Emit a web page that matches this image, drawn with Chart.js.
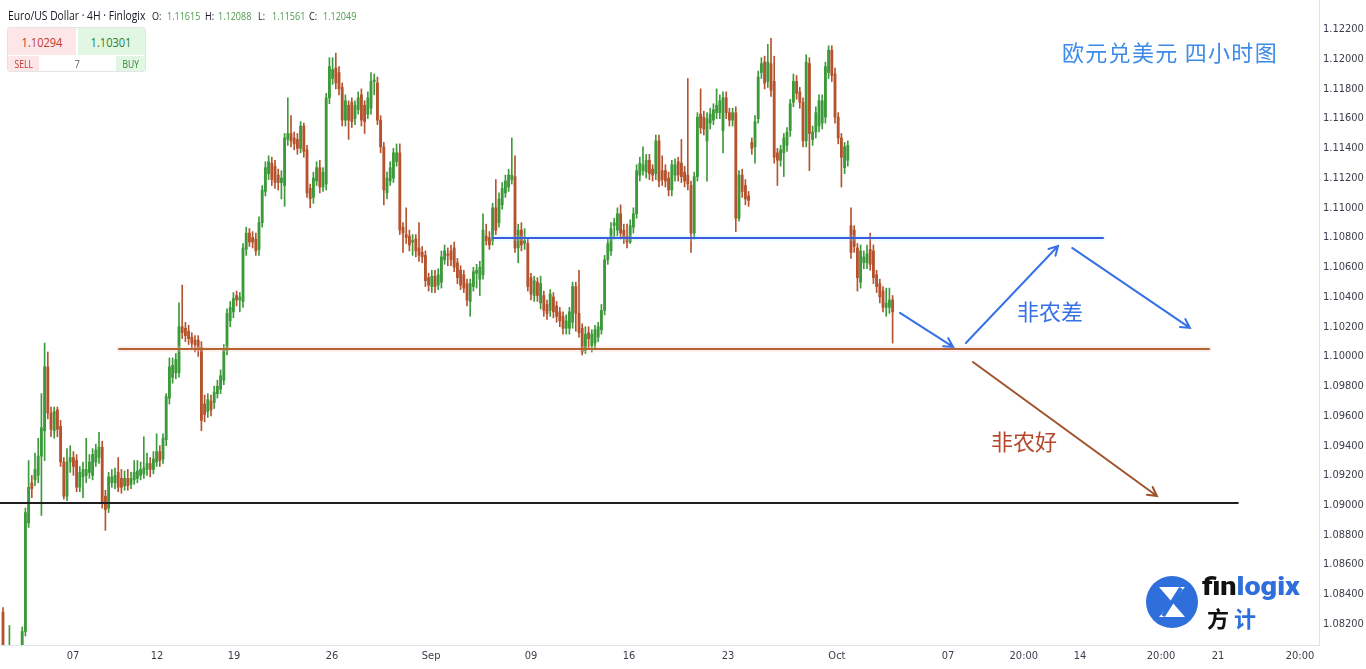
<!DOCTYPE html>
<html lang="zh">
<head>
<meta charset="utf-8">
<title>EUR/USD 4H</title>
<script src="https://cdn.jsdelivr.net/npm/chart.js@4.4.1/dist/chart.umd.min.js"></script>
<style>
  html, body { margin: 0; padding: 0; background: #fff; }
  #wrap { position: relative; width: 1366px; height: 669px; overflow: hidden; font-family: "Open Sans", "Noto Sans", sans-serif; }
  #chart { position: absolute; left: 0; top: 0; }
  .sq { position: absolute; top: 9px; white-space: nowrap; font-size: 11px; line-height: 14px; transform: scaleX(0.82); transform-origin: left center; color: #131722; }
  .sym { font-size: 12px; transform: scaleX(0.86); }
  .val { color: #4e9a4e; }
  .box { position: absolute; left: 7px; top: 27px; width: 137px; height: 43px; border: 1px solid #e4e4e4; border-radius: 3px; background: #fff; }
  .cell { position: absolute; display: flex; align-items: center; justify-content: center; white-space: nowrap; }
  .cell span { display: inline-block; transform: scaleX(0.85); }
  #title { position: absolute; left: 1062px; top: 35px; font: 22px "Noto Sans CJK SC", sans-serif; color: #3d8be8; white-space: nowrap; letter-spacing: 1.3px; }
  #logo { position: absolute; left: 1146px; top: 576px; }
  #brand { position: absolute; left: 1202px; top: 572px; font: 900 25px Roboto, sans-serif; white-space: nowrap; transform: scaleX(1.15); transform-origin: left center; }
  #brand2 { position: absolute; left: 1207px; top: 601px; font: 700 22px "Noto Sans CJK SC", sans-serif; white-space: nowrap; letter-spacing: 5px; }
</style>
</head>
<body>
<div id="wrap">
  <canvas id="chart" width="1366" height="669"></canvas>

  <div class="sq sym" style="left:8px;">Euro/US Dollar · 4H · Finlogix</div>
  <div class="sq" style="left:152px;">O:</div>
  <div class="sq val" style="left:167px;">1.11615</div>
  <div class="sq" style="left:205px;">H:</div>
  <div class="sq val" style="left:218px;">1.12088</div>
  <div class="sq" style="left:258px;">L:</div>
  <div class="sq val" style="left:272px;">1.11561</div>
  <div class="sq" style="left:309px;">C:</div>
  <div class="sq val" style="left:323px;">1.12049</div>

  <div class="box"></div>
  <div class="cell" style="left:8px;top:28px;width:68px;height:27px;background:#fde6e7;color:#c0392b;font-size:13px;"><span>1.10294</span></div>
  <div class="cell" style="left:78px;top:28px;width:67px;height:27px;background:#e2f6e4;color:#2e7d32;font-size:13px;"><span>1.10301</span></div>
  <div class="cell" style="left:8px;top:56px;width:31px;height:15px;background:#fde6e7;color:#c0392b;font-size:10px;"><span>SELL</span></div>
  <div class="cell" style="left:40px;top:56px;width:75px;height:15px;color:#666;font-size:11px;"><span>7</span></div>
  <div class="cell" style="left:116px;top:56px;width:29px;height:15px;background:#e2f6e4;color:#2e7d32;font-size:10px;"><span>BUY</span></div>

  <div id="title">欧元兑美元 四小时图</div>

  <svg id="logo" width="52" height="52" viewBox="0 0 52 52">
    <circle cx="26" cy="26" r="26" fill="#2f6fdb"/>
    <path d="M13 11 H39 L26 26 Z" fill="#fff"/>
    <path d="M13 41 H39 L26 26 Z" fill="#fff"/>
    <path d="M35 12 L17 40" stroke="#2f6fdb" stroke-width="4"/>
  </svg>
  <div id="brand"><span style="color:#111">fin</span><span style="color:#2f6fdb">logix</span></div>
  <div id="brand2"><span style="color:#111">方</span><span style="color:#2f6fdb">计</span></div>
</div>

<script>
// 4H candles, EUR/USD (oldest first)
const opens = [
  1.0828,1.0803,1.0800,1.0802,1.0795,1.0798,1.0801,1.0815,1.0888,1.0915,
  1.0917,1.0920,1.0933,1.0950,1.0993,1.0962,1.0950,1.0964,1.0953,1.0929,
  1.0906,1.0929,1.0932,1.0930,1.0912,1.0919,1.0920,1.0922,1.0920,1.0929,
  1.0932,1.0939,1.0906,1.0898,1.0915,1.0915,1.0922,1.0918,1.0913,1.0918,
  1.0914,1.0917,1.0918,1.0920,1.0921,1.0924,1.0928,1.0924,1.0929,1.0936,
  1.0931,1.0944,1.0972,1.0986,1.0989,1.0989,1.1020,1.1019,1.1017,1.1013,
  1.1011,1.1011,1.1006,1.0968,1.0963,1.0970,1.0969,1.0975,1.0978,1.0984,
  1.1004,1.1024,1.1030,1.1041,1.1038,1.1037,1.1072,1.1083,1.1080,1.1079,
  1.1072,1.1090,1.1111,1.1123,1.1130,1.1128,1.1122,1.1117,1.1115,1.1146,
  1.1150,1.1147,1.1146,1.1140,1.1155,1.1139,1.1113,1.1107,1.1118,1.1127,
  1.1114,1.1116,1.1174,1.1187,1.1194,1.1191,1.1181,1.1159,1.1169,1.1171,
  1.1160,1.1166,1.1176,1.1169,1.1163,1.1167,1.1185,1.1184,1.1159,1.1141,
  1.1110,1.1118,1.1120,1.1131,1.1137,1.1087,1.1082,1.1081,1.1077,1.1079,
  1.1073,1.1070,1.1068,1.1053,1.1047,1.1054,1.1048,1.1050,1.1065,1.1069,
  1.1071,1.1073,1.1063,1.1058,1.1055,1.1049,1.1037,1.1047,1.1056,1.1052,
  1.1055,1.1081,1.1080,1.1078,1.1100,1.1090,1.1102,1.1110,1.1114,1.1119,
  1.1121,1.1073,1.1085,1.1076,1.1076,1.1053,1.1041,1.1050,1.1036,1.1041,
  1.1035,1.1031,1.1040,1.1034,1.1030,1.1027,1.1019,1.1019,1.1023,1.1047,
  1.1029,1.1019,1.1004,1.1016,1.1007,1.1009,1.1013,1.1018,1.1031,1.1065,
  1.1071,1.1088,1.1085,1.1096,1.1085,1.1081,1.1077,1.1087,1.1096,1.1122,
  1.1125,1.1124,1.1132,1.1126,1.1123,1.1145,1.1125,1.1125,1.1120,1.1112,
  1.1122,1.1131,1.1130,1.1124,1.1122,1.1115,1.1083,1.1121,1.1163,1.1161,
  1.1145,1.1157,1.1159,1.1164,1.1164,1.1152,1.1174,1.1164,1.1159,1.1164,
  1.1093,1.1122,1.1115,1.1108,1.1144,1.1141,1.1160,1.1191,1.1198,1.1185,
  1.1197,1.1185,1.1137,1.1132,1.1137,1.1142,1.1152,1.1171,1.1185,1.1178,
  1.1171,1.1145,1.1197,1.1146,1.1151,1.1155,1.1157,1.1161,1.1191,1.1206,
  1.1190,1.1161,1.1147,1.1127,1.1132,1.1088,1.1085,1.1073,1.1050,1.1063,
  1.1063,1.1072,1.1071,1.1055,1.1049,1.1044,1.1033,1.1033,1.1038
];
const highs = [
  1.0831,1.0805,1.0819,1.0804,1.0801,1.0804,1.0818,1.0898,1.0930,1.0920,
  1.0935,1.0945,1.0975,1.1009,1.1003,1.0966,1.0966,1.0966,1.0957,1.0932,
  1.0938,1.0940,1.0936,1.0934,1.0926,1.0929,1.0945,1.0934,1.0938,1.0941,
  1.0949,1.0943,1.0910,1.0922,1.0924,1.0925,1.0932,1.0924,1.0923,1.0924,
  1.0922,1.0930,1.0930,1.0929,1.0946,1.0935,1.0932,1.0936,1.0948,1.0940,
  1.0948,1.0975,1.0999,1.0999,1.1002,1.1036,1.1048,1.1023,1.1021,1.1016,
  1.1014,1.1014,1.1010,1.0974,1.0975,1.0974,1.0980,1.0984,1.0991,1.1008,
  1.1032,1.1037,1.1043,1.1044,1.1043,1.1076,1.1087,1.1086,1.1084,1.1083,
  1.1094,1.1115,1.1131,1.1135,1.1134,1.1132,1.1126,1.1125,1.1150,1.1174,
  1.1162,1.1151,1.1150,1.1158,1.1157,1.1142,1.1116,1.1124,1.1131,1.1132,
  1.1127,1.1177,1.1201,1.1201,1.1204,1.1195,1.1184,1.1176,1.1172,1.1174,
  1.1172,1.1178,1.1180,1.1172,1.1178,1.1191,1.1190,1.1188,1.1162,1.1144,
  1.1124,1.1131,1.1140,1.1143,1.1143,1.1090,1.1100,1.1085,1.1082,1.1082,
  1.1090,1.1074,1.1071,1.1056,1.1058,1.1058,1.1059,1.1071,1.1075,1.1073,
  1.1075,1.1077,1.1066,1.1061,1.1058,1.1052,1.1052,1.1060,1.1062,1.1064,
  1.1096,1.1089,1.1084,1.1103,1.1119,1.1110,1.1117,1.1122,1.1126,1.1147,
  1.1135,1.1089,1.1090,1.1086,1.1079,1.1056,1.1054,1.1053,1.1054,1.1044,
  1.1038,1.1045,1.1043,1.1037,1.1033,1.1030,1.1028,1.1033,1.1050,1.1050,
  1.1058,1.1022,1.1020,1.1020,1.1018,1.1021,1.1023,1.1035,1.1068,1.1080,
  1.1090,1.1093,1.1100,1.1102,1.1089,1.1089,1.1092,1.1100,1.1129,1.1134,
  1.1141,1.1136,1.1136,1.1129,1.1149,1.1149,1.1135,1.1129,1.1124,1.1132,
  1.1133,1.1134,1.1146,1.1128,1.1187,1.1118,1.1124,1.1164,1.1180,1.1165,
  1.1164,1.1167,1.1170,1.1180,1.1176,1.1178,1.1178,1.1167,1.1167,1.1168,
  1.1125,1.1126,1.1119,1.1111,1.1147,1.1162,1.1192,1.1201,1.1202,1.1210,
  1.1214,1.1202,1.1140,1.1142,1.1150,1.1154,1.1173,1.1190,1.1189,1.1181,
  1.1174,1.1203,1.1201,1.1155,1.1168,1.1176,1.1176,1.1198,1.1209,1.1209,
  1.1194,1.1164,1.1150,1.1144,1.1145,1.1100,1.1088,1.1076,1.1075,1.1071,
  1.1075,1.1083,1.1075,1.1058,1.1052,1.1047,1.1046,1.1046,1.1041
];
const lows = [
  1.0803,1.0790,1.0795,1.0790,1.0788,1.0792,1.0799,1.0812,1.0885,1.0905,
  1.0913,1.0915,1.0893,1.0930,1.0958,1.0946,1.0945,1.0946,1.0926,1.0904,
  1.0903,1.0922,1.0920,1.0909,1.0909,1.0905,1.0915,1.0918,1.0917,1.0926,
  1.0928,1.0898,1.0883,1.0895,1.0912,1.0911,1.0909,1.0908,1.0910,1.0910,
  1.0911,1.0914,1.0915,1.0917,1.0918,1.0920,1.0919,1.0921,1.0926,1.0926,
  1.0928,1.0940,1.0968,1.0982,1.0985,1.0986,1.1012,1.1010,1.1008,1.1005,
  1.1003,1.1000,1.0950,1.0956,1.0959,1.0960,1.0965,1.0972,1.0975,1.0981,
  1.1001,1.1020,1.1026,1.1034,1.1030,1.1033,1.1068,1.1074,1.1073,1.1068,
  1.1068,1.1087,1.1108,1.1119,1.1115,1.1113,1.1112,1.1106,1.1101,1.1142,
  1.1141,1.1139,1.1136,1.1137,1.1134,1.1107,1.1100,1.1103,1.1115,1.1110,
  1.1111,1.1112,1.1170,1.1183,1.1180,1.1176,1.1155,1.1155,1.1146,1.1154,
  1.1156,1.1163,1.1155,1.1150,1.1160,1.1163,1.1176,1.1156,1.1137,1.1102,
  1.1106,1.1115,1.1117,1.1128,1.1082,1.1070,1.1076,1.1071,1.1068,1.1067,
  1.1064,1.1063,1.1047,1.1044,1.1043,1.1043,1.1045,1.1046,1.1062,1.1061,
  1.1061,1.1057,1.1049,1.1045,1.1043,1.1034,1.1027,1.1044,1.1046,1.1041,
  1.1052,1.1075,1.1072,1.1075,1.1082,1.1087,1.1099,1.1107,1.1111,1.1116,
  1.1070,1.1063,1.1071,1.1072,1.1044,1.1038,1.1037,1.1037,1.1032,1.1027,
  1.1025,1.1027,1.1026,1.1023,1.1020,1.1015,1.1015,1.1015,1.1019,1.1017,
  1.1013,1.1001,1.1002,1.1005,1.1003,1.1005,1.1010,1.1015,1.1028,1.1062,
  1.1068,1.1079,1.1081,1.1079,1.1076,1.1073,1.1076,1.1083,1.1093,1.1118,
  1.1122,1.1120,1.1119,1.1118,1.1119,1.1114,1.1115,1.1114,1.1108,1.1108,
  1.1118,1.1118,1.1117,1.1114,1.1112,1.1070,1.1079,1.1118,1.1150,1.1149,
  1.1118,1.1153,1.1156,1.1160,1.1160,1.1137,1.1160,1.1155,1.1155,1.1084,
  1.1091,1.1107,1.1102,1.1101,1.1136,1.1130,1.1157,1.1187,1.1180,1.1181,
  1.1175,1.1130,1.1115,1.1128,1.1121,1.1138,1.1148,1.1168,1.1173,1.1167,
  1.1141,1.1141,1.1125,1.1142,1.1147,1.1151,1.1153,1.1157,1.1187,1.1185,
  1.1157,1.1143,1.1114,1.1123,1.1128,1.1066,1.1070,1.1044,1.1046,1.1059,
  1.1059,1.1058,1.1049,1.1043,1.1036,1.1030,1.1027,1.1029,1.1009
];
const closes = [
  1.0806,1.0796,1.0805,1.0795,1.0798,1.0800,1.0815,1.0895,1.0912,1.0911,
  1.0924,1.0933,1.0952,1.0993,1.0962,1.0951,1.0963,1.0951,1.0929,1.0906,
  1.0929,1.0932,1.0926,1.0912,1.0922,1.0924,1.0924,1.0929,1.0934,1.0937,
  1.0939,1.0902,1.0897,1.0919,1.0919,1.0920,1.0912,1.0912,1.0918,1.0913,
  1.0918,1.0922,1.0923,1.0924,1.0925,1.0928,1.0924,1.0931,1.0936,1.0930,
  1.0945,1.0973,1.0993,1.0994,1.0998,1.1020,1.1016,1.1014,1.1012,1.1009,
  1.1008,1.1005,1.0957,1.0961,1.0971,1.0964,1.0976,1.0980,1.0987,1.1004,
  1.1029,1.1033,1.1039,1.1038,1.1040,1.1073,1.1083,1.1077,1.1077,1.1071,
  1.1090,1.1112,1.1127,1.1131,1.1119,1.1117,1.1117,1.1120,1.1147,1.1150,
  1.1145,1.1143,1.1140,1.1155,1.1138,1.1110,1.1106,1.1120,1.1127,1.1114,
  1.1124,1.1174,1.1195,1.1193,1.1184,1.1180,1.1159,1.1172,1.1159,1.1158,
  1.1169,1.1174,1.1159,1.1158,1.1174,1.1185,1.1186,1.1159,1.1141,1.1112,
  1.1120,1.1127,1.1137,1.1137,1.1085,1.1083,1.1080,1.1075,1.1078,1.1071,
  1.1068,1.1067,1.1051,1.1048,1.1054,1.1047,1.1055,1.1067,1.1071,1.1068,
  1.1065,1.1060,1.1053,1.1048,1.1046,1.1038,1.1049,1.1057,1.1058,1.1060,
  1.1085,1.1078,1.1075,1.1100,1.1085,1.1106,1.1113,1.1118,1.1122,1.1122,
  1.1073,1.1085,1.1075,1.1078,1.1047,1.1042,1.1051,1.1041,1.1049,1.1031,
  1.1029,1.1042,1.1030,1.1027,1.1024,1.1019,1.1024,1.1030,1.1047,1.1029,
  1.1016,1.1003,1.1015,1.1012,1.1015,1.1018,1.1020,1.1031,1.1065,1.1076,
  1.1086,1.1090,1.1096,1.1083,1.1080,1.1077,1.1088,1.1096,1.1125,1.1130,
  1.1129,1.1132,1.1123,1.1122,1.1145,1.1118,1.1119,1.1118,1.1112,1.1129,
  1.1129,1.1122,1.1121,1.1118,1.1116,1.1083,1.1121,1.1161,1.1154,1.1153,
  1.1160,1.1163,1.1166,1.1169,1.1172,1.1174,1.1164,1.1159,1.1164,1.1093,
  1.1122,1.1111,1.1106,1.1105,1.1140,1.1158,1.1188,1.1197,1.1184,1.1198,
  1.1179,1.1134,1.1132,1.1139,1.1147,1.1151,1.1170,1.1185,1.1177,1.1171,
  1.1145,1.1198,1.1150,1.1151,1.1164,1.1172,1.1172,1.1195,1.1206,1.1189,
  1.1161,1.1147,1.1134,1.1141,1.1142,1.1070,1.1074,1.1053,1.1071,1.1067,
  1.1069,1.1062,1.1053,1.1047,1.1040,1.1033,1.1036,1.1038,1.1030
];

// time axis: candle slot where each date label sits
const xTickLabels = ['07', '12', '19', '26', 'Sep', '09', '16', '23', 'Oct', '07', '20:00', '14', '20:00', '21', '20:00'];
const xTickSlots = [21.9, 48.1, 72.2, 102.8, 133.8, 165, 195.6, 226.6, 260.6, 295.3, 319, 336.6, 361.9, 379.7, 405.3];

const priceTicks = [1.122, 1.120, 1.118, 1.116, 1.114, 1.112, 1.110, 1.108, 1.106, 1.104, 1.102,
  1.100, 1.098, 1.096, 1.094, 1.092, 1.090, 1.088, 1.086, 1.084, 1.082];

// drawn annotations, in slot / price units
const levels = [
  { name: 'support', price: 1.09014, from: -0.94, to: 385.9 },
  { name: 'floor', price: 1.10050, from: 36.25, to: 376.9 },
  { name: 'ceiling', price: 1.10797, from: 153.1, to: 343.75 }
];
const arrows = [
  { name: 'blue', from: [280.3, 1.10293], to: [296.9, 1.10064] },
  { name: 'blue', from: [300.9, 1.10091], to: [329.7, 1.10743] },
  { name: 'blue', from: [334.1, 1.10730], to: [370.9, 1.10192] },
  { name: 'brown', from: [303.1, 1.09963], to: [360.6, 1.09061] }
];
const notes = [
  { name: 'blue', text: '非农差', at: [327.2, 1.10299] },
  { name: 'red', text: '非农好', at: [319.1, 1.09425] }
];

const UP = '#3d9a3a';
const DOWN = '#b5532e';
const palette = {
  support: '#1f1f1f', floor: '#b3652f', ceiling: '#3a5bdf',
  blue: '#3672e6', brown: '#a0522d', red: '#b5472c'
};
const glow = { floor: 'rgba(255, 195, 205, 0.25)', ceiling: 'rgba(140, 235, 255, 0.2)' };

const candleColors = opens.map((o, i) => (closes[i] >= o ? UP : DOWN));

const overlay = {
  id: 'overlay',
  afterDatasetsDraw(chart) {
    const { ctx, scales: { x, y } } = chart;
    ctx.save();
    ctx.lineCap = 'round';

    levels.forEach((l) => {
      const py = y.getPixelForValue(l.price);
      const x0 = x.getPixelForValue(l.from);
      const x1 = x.getPixelForValue(l.to);
      if (glow[l.name]) {
        ctx.strokeStyle = glow[l.name];
        ctx.lineWidth = 6;
        ctx.beginPath(); ctx.moveTo(x0, py); ctx.lineTo(x1, py); ctx.stroke();
      }
      ctx.strokeStyle = palette[l.name];
      ctx.lineWidth = 2;
      ctx.beginPath(); ctx.moveTo(x0, py); ctx.lineTo(x1, py); ctx.stroke();
    });

    arrows.forEach((a) => {
      const x0 = x.getPixelForValue(a.from[0]);
      const y0 = y.getPixelForValue(a.from[1]);
      const x1 = x.getPixelForValue(a.to[0]);
      const y1 = y.getPixelForValue(a.to[1]);
      const ang = Math.atan2(y1 - y0, x1 - x0);
      const head = 10;
      ctx.strokeStyle = palette[a.name];
      ctx.lineWidth = 2;
      ctx.beginPath();
      ctx.moveTo(x0, y0);
      ctx.lineTo(x1, y1);
      ctx.moveTo(x1 - head * Math.cos(ang - 0.5), y1 - head * Math.sin(ang - 0.5));
      ctx.lineTo(x1, y1);
      ctx.lineTo(x1 - head * Math.cos(ang + 0.5), y1 - head * Math.sin(ang + 0.5));
      ctx.stroke();
    });

    ctx.font = '22px "Noto Sans CJK SC", sans-serif';
    ctx.textAlign = 'center';
    ctx.textBaseline = 'middle';
    notes.forEach((n) => {
      ctx.fillStyle = palette[n.name];
      ctx.fillText(n.text, x.getPixelForValue(n.at[0]), y.getPixelForValue(n.at[1]));
    });
    ctx.restore();
  }
};

const axisFont = { family: '"Liberation Sans Narrow", "DejaVu Sans Condensed", "Open Sans", sans-serif', size: 11 };

new Chart(document.getElementById('chart'), {
  type: 'bar',
  data: {
    datasets: [
      {
        label: 'wick',
        data: opens.map((_, i) => ({ x: i, y: [lows[i], highs[i]] })),
        backgroundColor: candleColors,
        barThickness: 1,
        grouped: false,
        order: 2
      },
      {
        label: 'body',
        data: opens.map((o, i) => ({ x: i, y: [o, closes[i]] })),
        backgroundColor: candleColors,
        barThickness: 2.2,
        minBarLength: 1,
        grouped: false,
        order: 1
      }
    ]
  },
  options: {
    responsive: false,
    devicePixelRatio: 1,
    animation: false,
    events: [],
    layout: { padding: 0 },
    plugins: {
      legend: { display: false },
      tooltip: { enabled: false },
      title: { display: false }
    },
    scales: {
      x: {
        type: 'linear',
        offset: false,
        min: -0.94,
        max: 411.25,
        grid: { display: false, drawTicks: false },
        border: { display: true, color: '#e0e3eb' },
        afterBuildTicks: (s) => { s.ticks = xTickSlots.map((v) => ({ value: v })); },
        afterFit: (s) => { s.height = 24; s.paddingLeft = 0; s.paddingRight = 0; },
        ticks: {
          autoSkip: false,
          maxRotation: 0,
          padding: 5,
          color: '#3a3e4a',
          font: axisFont,
          callback: (v, i) => xTickLabels[i]
        }
      },
      y: {
        position: 'right',
        min: 1.08059,
        max: 1.12398,
        grid: { display: false, drawTicks: false },
        border: { display: true, color: '#e0e3eb' },
        afterBuildTicks: (s) => { s.ticks = priceTicks.map((v) => ({ value: v })); },
        afterFit: (s) => { s.width = 47; s.paddingTop = 0; s.paddingBottom = 0; },
        ticks: {
          padding: 4,
          color: '#3a3e4a',
          font: axisFont,
          callback: (v) => v.toFixed(5)
        }
      }
    }
  },
  plugins: [overlay]
});
</script>
</body>
</html>
